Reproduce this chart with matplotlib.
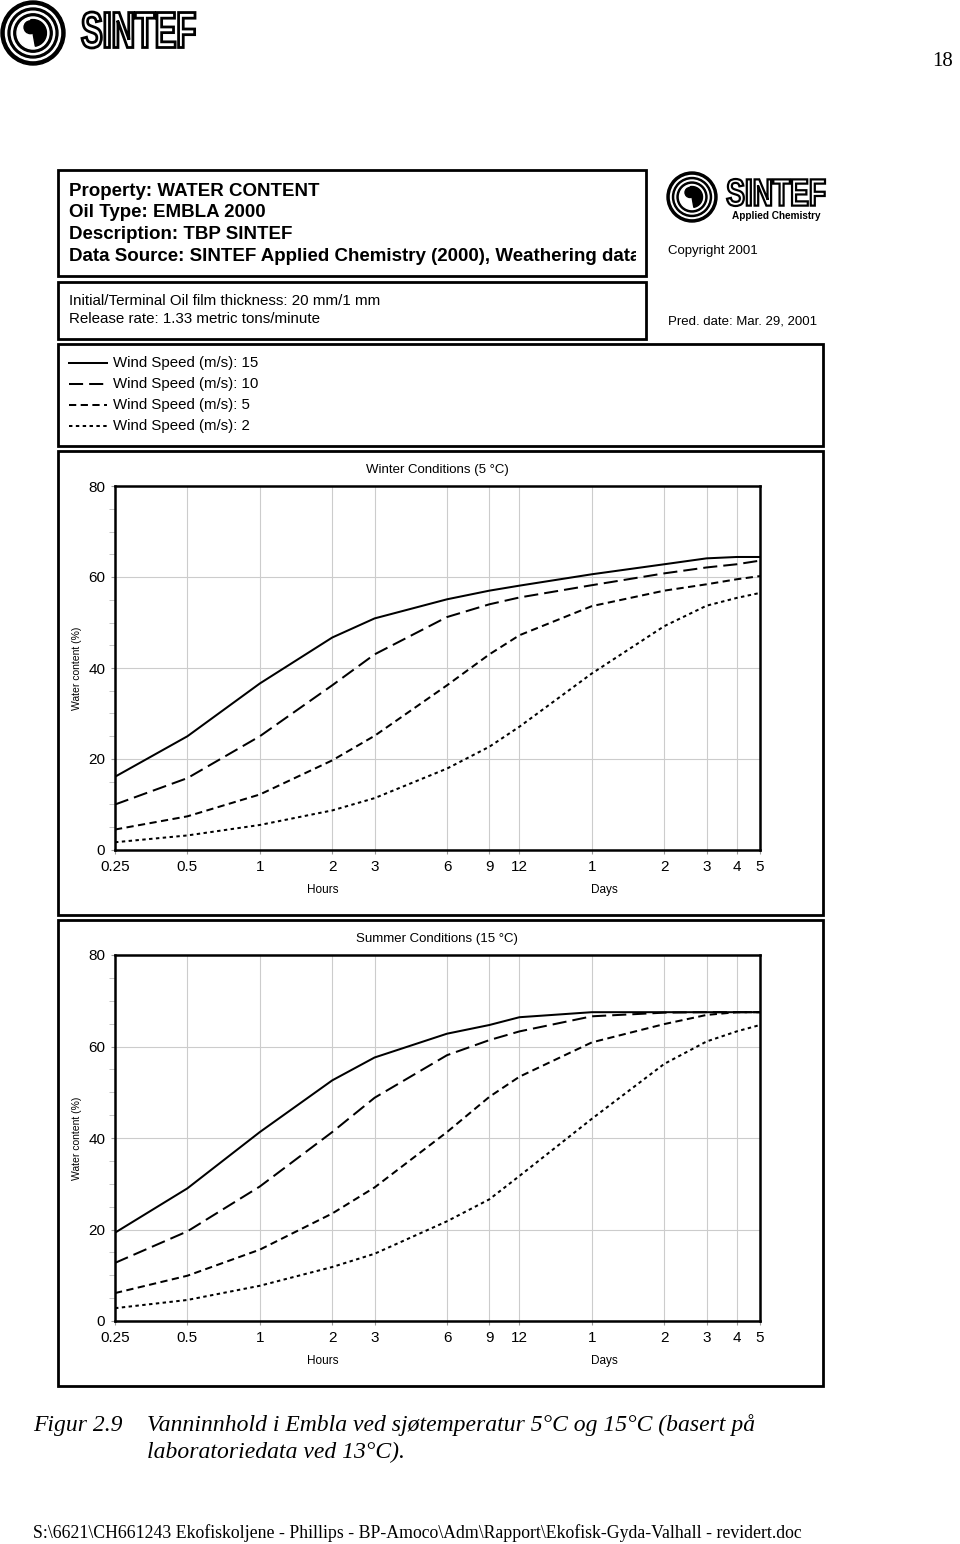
import numpy as np
import matplotlib.pyplot as plt
from matplotlib.patches import Rectangle, Circle, Wedge, PathPatch
from matplotlib.textpath import TextPath
from matplotlib.font_manager import FontProperties
from matplotlib.transforms import Affine2D

# time axis, hours
hours = [0.25, 0.5, 1, 2, 3, 6, 9, 12, 24, 48, 72, 96, 120]
tick_labels = ['0.25', '0.5', '1', '2', '3', '6', '9', '12', '1', '2', '3', '4', '5']

wind_labels = ['Wind Speed (m/s): 15', 'Wind Speed (m/s): 10',
               'Wind Speed (m/s): 5', 'Wind Speed (m/s): 2']

# water content (%) - winter, 5 C
winter_15 = [16.1, 25.0, 36.6, 46.7, 50.9, 55.1, 57.0, 58.1, 60.6, 62.8, 64.1, 64.4, 64.4]
winter_10 = [10.0, 15.8, 25.0, 36.2, 43.0, 51.2, 54.0, 55.5, 58.2, 60.8, 62.1, 62.8, 63.6]
winter_5 = [4.5, 7.4, 12.2, 19.7, 25.1, 36.2, 43.0, 47.2, 53.6, 57.0, 58.4, 59.5, 60.2]
winter_2 = [1.7, 3.2, 5.5, 8.7, 11.4, 17.9, 22.7, 27.1, 38.8, 49.2, 53.7, 55.4, 56.5]

# water content (%) - summer, 15 C
summer_15 = [19.3, 29.0, 41.3, 52.6, 57.6, 62.8, 64.7, 66.4, 67.5, 67.5, 67.5, 67.5, 67.5]
summer_10 = [12.7, 19.6, 29.4, 41.3, 48.8, 58.1, 61.4, 63.3, 66.6, 67.4, 67.5, 67.5, 67.5]
summer_5 = [6.1, 9.9, 15.6, 23.5, 29.2, 41.3, 49.0, 53.4, 60.9, 64.9, 66.9, 67.5, 67.5]
summer_2 = [2.8, 4.6, 7.7, 11.8, 14.7, 21.8, 26.6, 31.7, 44.2, 56.2, 61.1, 63.3, 64.7]

LW = 1.45
styles = [dict(linestyle='-'),
          dict(linestyle=(0, (7.0, 3.0))),
          dict(linestyle=(0, (3.6, 2.2))),
          dict(linestyle=(0, (1.7, 1.7)))]

W, H = 960, 1544
SANS = ['Liberation Sans', 'DejaVu Sans']
SERIF = ['Liberation Serif', 'DejaVu Serif']

fig = plt.figure(figsize=(W / 100, H / 100), dpi=100)

# overlay in pixel coordinates for boxes, header text and logos
ov = fig.add_axes([0, 0, 1, 1])
ov.set_xlim(0, W)
ov.set_ylim(H, 0)
ov.axis('off')


def box(x0, y0, x1, y1, lw=2.0):
    r = Rectangle((x0, y0), x1 - x0, y1 - y0, fill=False, lw=lw, ec='black')
    ov.add_patch(r)
    return r


def outlined_word(word, x0, y0, x1, y1, lw):
    # squeeze the word into the box (condensed look of the logo type)
    tp = TextPath((0, 0), word, size=10, prop=FontProperties(family=SANS, weight='bold'))
    ext = tp.get_extents()
    tr = (Affine2D().translate(-ext.x0, -ext.y0)
          .scale((x1 - x0) / ext.width, -(y1 - y0) / ext.height)
          .translate(x0, y1))
    ov.add_patch(PathPatch(tr.transform_path(tp), fc='white', ec='black', lw=lw))


def logo(cx, cy, r):
    ov.add_patch(Circle((cx, cy), r, color='black'))
    ov.add_patch(Circle((cx, cy), r * 0.86, color='white'))
    ov.add_patch(Circle((cx, cy), r * 0.78, color='black'))
    ov.add_patch(Circle((cx, cy), r * 0.68, color='white'))
    ov.add_patch(Circle((cx, cy), r * 0.6, color='black'))
    ov.add_patch(Circle((cx, cy), r * 0.5, color='white'))
    ov.add_patch(Wedge((cx, cy), r * 0.42, -100, 80, color='black'))
    ov.add_patch(Circle((cx - r * 0.08, cy - r * 0.18), r * 0.2, color='black'))


logo(33, 33, 32)
outlined_word('SINTEF', 82, 12, 195, 48, 2.0)
logo(692, 197, 25)
outlined_word('SINTEF', 727, 179, 825, 206, 1.6)
ov.text(776, 216, 'Applied Chemistry', fontsize=7.2, fontweight='bold', family=SANS,
        ha='center', va='center')
ov.text(953, 62, '18', fontsize=15, family=SERIF, ha='right', va='center')

# header boxes
box(58, 170, 646, 276)
head = ['Property: WATER CONTENT', 'Oil Type: EMBLA 2000', 'Description: TBP SINTEF',
        'Data Source: SINTEF Applied Chemistry (2000), Weathering data']
clip = Rectangle((58, 170), 578, 106, transform=ov.transData)
for i, s in enumerate(head):
    t = ov.text(69, 191 + i * 21.7, s, fontsize=13.5, fontweight='bold', family=SANS,
                va='center', ha='left', clip_on=True)
    t.set_clip_path(clip)

box(58, 282, 646, 339)
ov.text(69, 301, 'Initial/Terminal Oil film thickness: 20 mm/1 mm', fontsize=10.9,
        family=SANS, va='center')
ov.text(69, 319, 'Release rate: 1.33 metric tons/minute', fontsize=10.9,
        family=SANS, va='center')
ov.text(668, 251, 'Copyright 2001', fontsize=9.5, family=SANS, va='center')
ov.text(668, 321, 'Pred. date: Mar. 29, 2001', fontsize=9.5, family=SANS, va='center')

# legend box
box(58, 344, 823, 446)
for i, (lab, st) in enumerate(zip(wind_labels, styles)):
    y = 363 + i * 21
    ov.plot([69, 107], [y, y], color='black', lw=LW, **st)
    ov.text(113, y, lab, fontsize=10.8, family=SANS, va='center')

# panels
panels = [
    ('Winter Conditions (5 °C)', [winter_15, winter_10, winter_5, winter_2], 451, 915, 486, 850),
    ('Summer Conditions (15 °C)', [summer_15, summer_10, summer_5, summer_2], 920, 1386, 955, 1321),
]

for title, series, by0, by1, ay0, ay1 in panels:
    box(58, by0, 823, by1)
    ax = fig.add_axes([115 / W, 1 - ay1 / H, (760 - 115) / W, (ay1 - ay0) / H])
    for vals, st in zip(series, styles):
        ax.plot(hours, vals, color='black', lw=LW, **st)
    ax.set_xscale('log')
    ax.set_xlim(0.25, 120)
    ax.set_ylim(0, 80)
    ax.set_xticks(hours)
    ax.set_xticklabels(tick_labels)
    ax.minorticks_off()
    ax.set_yticks([0, 20, 40, 60, 80])
    ax.set_yticks(np.arange(0, 81, 5), minor=True)
    ax.grid(True, which='major', color='#cccccc', lw=0.8)
    ax.tick_params(axis='both', which='major', length=3, color='#999999',
                   labelsize=11, pad=4)
    ax.tick_params(axis='y', which='minor', length=4, color='#bbbbbb', width=0.6)
    ax.tick_params(axis='x', which='minor', length=0)
    for lbl in ax.get_xticklabels() + ax.get_yticklabels():
        lbl.set_family(SANS)
    for sp in ax.spines.values():
        sp.set_linewidth(1.8)
    ov.text(437, ay0 - 16, title, fontsize=9.5, family=SANS, ha='center', va='center')
    ov.text(77, (ay0 + ay1) / 2, 'Water content (%)', fontsize=7.5, family=SANS,
            rotation=90, ha='center', va='center')
    ov.text(323, ay1 + 40, 'Hours', fontsize=8.5, family=SANS, ha='center', va='center')
    ov.text(604, ay1 + 40, 'Days', fontsize=8.5, family=SANS, ha='center', va='center')

# caption and footer
ov.text(33, 1425, 'Figur 2.9', fontsize=17, style='italic', family=SERIF, va='center')
ov.text(147, 1425, 'Vanninnhold i Embla ved sjøtemperatur 5°C og 15°C (basert på',
        fontsize=17, style='italic', family=SERIF, va='center')
ov.text(147, 1452, 'laboratoriedata ved 13°C).', fontsize=17, style='italic',
        family=SERIF, va='center')
ov.text(33, 1533, 'S:\\6621\\CH661243 Ekofiskoljene - Phillips - BP-Amoco\\Adm\\Rapport'
        '\\Ekofisk-Gyda-Valhall - revidert.doc', fontsize=12.8, family=SERIF, va='center')

fig.savefig('out.png', dpi=100)
